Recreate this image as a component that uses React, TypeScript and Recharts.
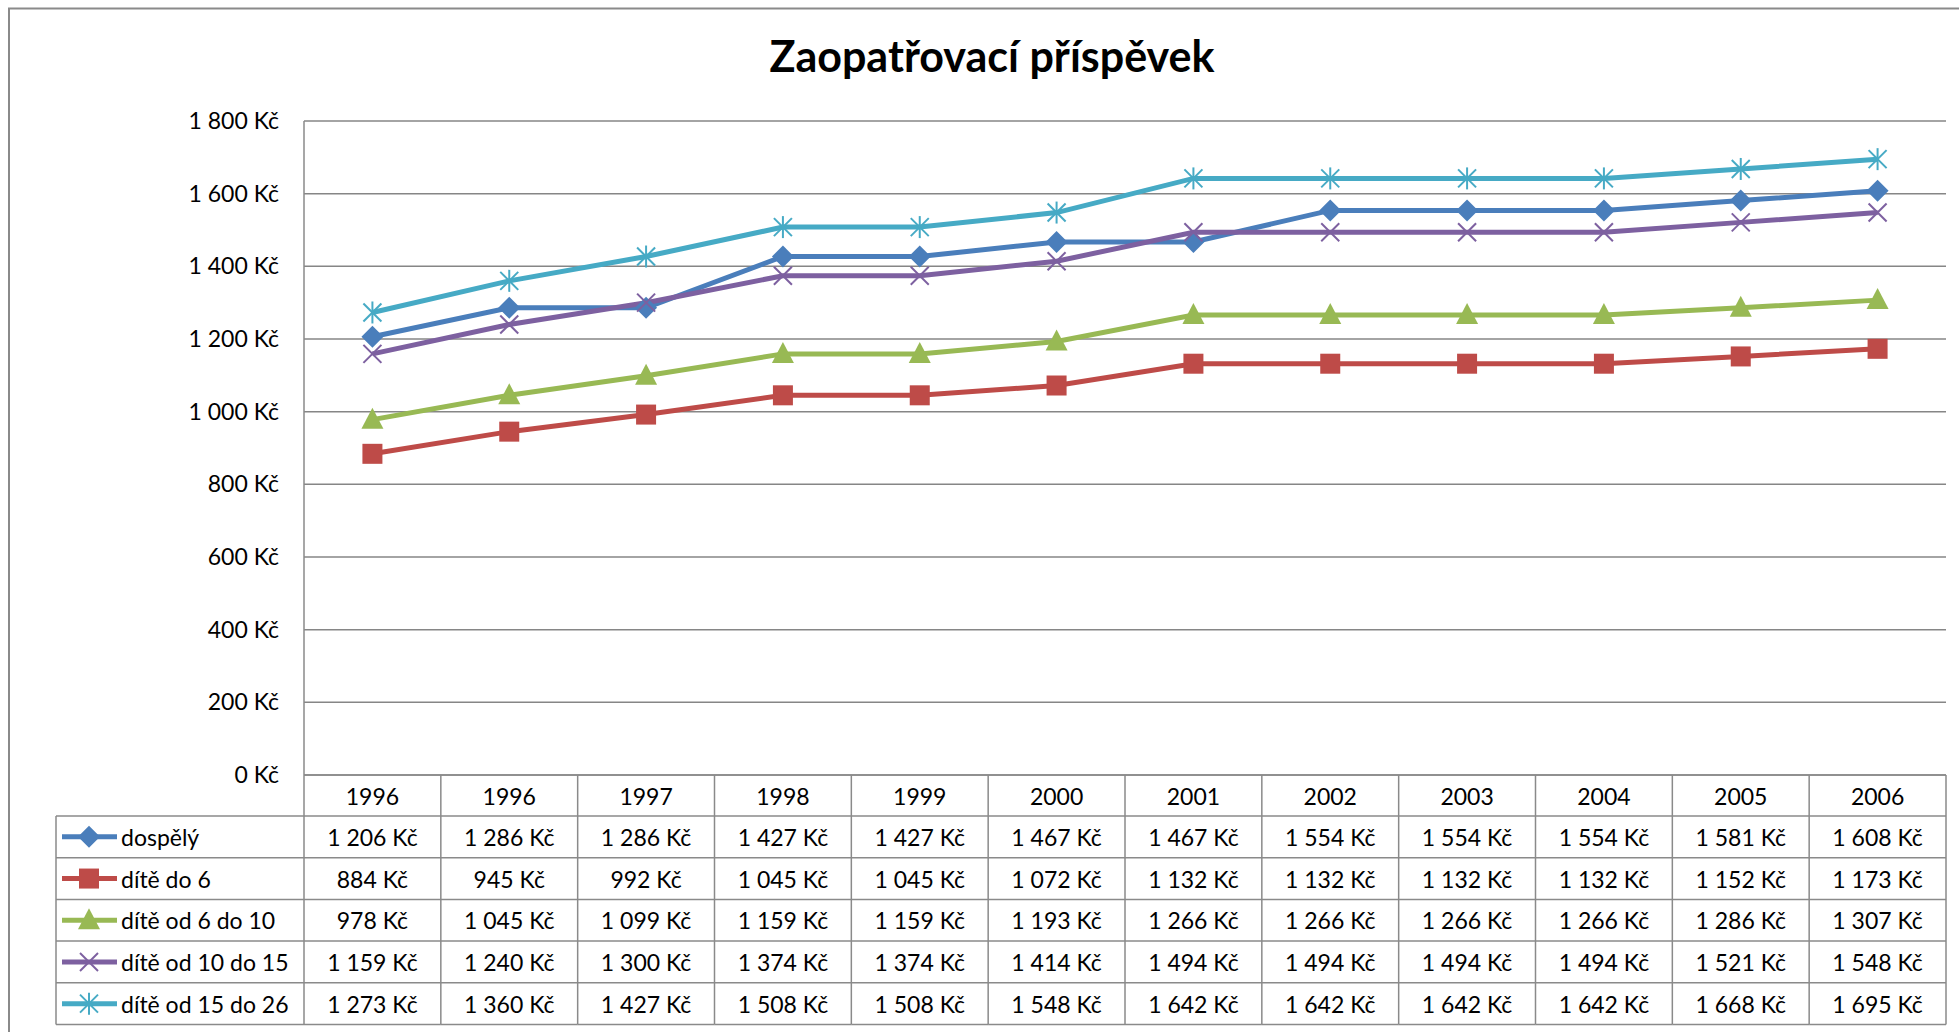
import { LineChart, Line, XAxis, YAxis, CartesianGrid } from "recharts";

const years = ["1996", "1996", "1997", "1998", "1999", "2000", "2001", "2002", "2003", "2004", "2005", "2006"];
const dospely = [1206, 1286, 1286, 1427, 1427, 1467, 1467, 1554, 1554, 1554, 1581, 1608];
const diteDo6 = [884, 945, 992, 1045, 1045, 1072, 1132, 1132, 1132, 1132, 1152, 1173];
const dite6do10 = [978, 1045, 1099, 1159, 1159, 1193, 1266, 1266, 1266, 1266, 1286, 1307];
const dite10do15 = [1159, 1240, 1300, 1374, 1374, 1414, 1494, 1494, 1494, 1494, 1521, 1548];
const dite15do26 = [1273, 1360, 1427, 1508, 1508, 1548, 1642, 1642, 1642, 1642, 1668, 1695];
const yTicks = [0, 200, 400, 600, 800, 1000, 1200, 1400, 1600, 1800];

const series = [
  { key: "dospely", name: "dospělý", values: dospely, color: "#4A7EBB", marker: "diamond" },
  { key: "diteDo6", name: "dítě do 6", values: diteDo6, color: "#BE4B48", marker: "square" },
  { key: "dite6do10", name: "dítě od 6 do 10", values: dite6do10, color: "#98B954", marker: "triangle" },
  { key: "dite10do15", name: "dítě od 10 do 15", values: dite10do15, color: "#7D60A0", marker: "x" },
  { key: "dite15do26", name: "dítě od 15 do 26", values: dite15do26, color: "#46AAC5", marker: "star" },
];

const data = years.map((year, i) => {
  const row: Record<string, number | string> = { i, year };
  series.forEach((s) => (row[s.key] = s.values[i]));
  return row;
});

const W = 1959;
const H = 1032;
const PLOT_LEFT = 304;
const PLOT_RIGHT = 1946;
const PLOT_TOP = 121;
const PLOT_BOTTOM = 775;
const BAND = (PLOT_RIGHT - PLOT_LEFT) / years.length;
const HEADER_BOTTOM = 816;
const ROW_H = 41.7;
const TABLE_BOTTOM = HEADER_BOTTOM + ROW_H * series.length;
const LEGEND_LEFT = 56;
const BORDER = "#8a8a8a";
const FONT = "Lato, 'Open Sans', sans-serif";

const kc = (v: number) => String(v).replace(/\B(?=(\d{3})+(?!\d))/g, " ") + " Kč";

function Marker({ type, cx, cy, color }: { type: string; cx: number; cy: number; color: string }) {
  if (type === "diamond") {
    const r = 11;
    return <polygon points={`${cx},${cy - r} ${cx + r},${cy} ${cx},${cy + r} ${cx - r},${cy}`} fill={color} />;
  }
  if (type === "square") {
    return <rect x={cx - 10} y={cy - 10} width={20} height={20} fill={color} />;
  }
  if (type === "triangle") {
    return <polygon points={`${cx},${cy - 12} ${cx + 11},${cy + 9} ${cx - 11},${cy + 9}`} fill={color} />;
  }
  const r = 9;
  return (
    <g stroke={color} strokeWidth={2}>
      <line x1={cx - r} y1={cy - r} x2={cx + r} y2={cy + r} />
      <line x1={cx - r} y1={cy + r} x2={cx + r} y2={cy - r} />
      {type === "star" && <line x1={cx} y1={cy - r - 2} x2={cx} y2={cy + r + 2} />}
    </g>
  );
}

function TableColumn(props: any) {
  const { x, payload } = props;
  const i = Number(payload.value);
  const left = x - BAND / 2;
  const right = x + BAND / 2;
  const rowLines = [HEADER_BOTTOM, ...series.map((_, r) => HEADER_BOTTOM + ROW_H * (r + 1))];
  return (
    <g fontFamily={FONT} fontSize={23} fill="#000">
      <line x1={right} y1={PLOT_BOTTOM} x2={right} y2={TABLE_BOTTOM} stroke={BORDER} strokeWidth={1.5} />
      {i === 0 && <line x1={left} y1={PLOT_BOTTOM} x2={left} y2={TABLE_BOTTOM} stroke={BORDER} strokeWidth={1.5} />}
      {rowLines.map((ly, r) => (
        <line key={r} x1={left} y1={ly} x2={right} y2={ly} stroke={BORDER} strokeWidth={1.5} />
      ))}
      <text x={x} y={(PLOT_BOTTOM + HEADER_BOTTOM) / 2} textAnchor="middle" dominantBaseline="central" stroke="none">
        {years[i]}
      </text>
      {series.map((s, r) => (
        <text
          key={s.key}
          x={x}
          y={HEADER_BOTTOM + ROW_H * (r + 0.5)}
          textAnchor="middle"
          dominantBaseline="central"
          stroke="none"
        >
          {kc(s.values[i])}
        </text>
      ))}
      {i === 0 && (
        <g>
          <line x1={LEGEND_LEFT} y1={HEADER_BOTTOM} x2={LEGEND_LEFT} y2={TABLE_BOTTOM} stroke={BORDER} strokeWidth={1.5} />
          {rowLines.map((ly, r) => (
            <line key={r} x1={LEGEND_LEFT} y1={ly} x2={left} y2={ly} stroke={BORDER} strokeWidth={1.5} />
          ))}
          {series.map((s, r) => {
            const cy = HEADER_BOTTOM + ROW_H * (r + 0.5);
            return (
              <g key={s.key}>
                <line x1={62} y1={cy} x2={117} y2={cy} stroke={s.color} strokeWidth={5} />
                <Marker type={s.marker} cx={89} cy={cy} color={s.color} />
                <text x={121} y={cy} dominantBaseline="central" stroke="none">
                  {s.name}
                </text>
              </g>
            );
          })}
        </g>
      )}
    </g>
  );
}

export default function App() {
  return (
    <div style={{ position: "absolute", left: 0, top: 0, width: W, height: H, background: "#fff", overflow: "hidden" }}>
      <LineChart
        width={W}
        height={H}
        data={data}
        margin={{ top: PLOT_TOP, right: W - PLOT_RIGHT, bottom: H - TABLE_BOTTOM, left: 0 }}
      >
        <CartesianGrid vertical={false} stroke="#868686" strokeWidth={1.5} />
        <XAxis
          dataKey="i"
          type="category"
          height={TABLE_BOTTOM - PLOT_BOTTOM}
          padding={{ left: BAND / 2, right: BAND / 2 }}
          axisLine={{ stroke: BORDER, strokeWidth: 1.5 }}
          tickLine={false}
          tickSize={0}
          tickMargin={0}
          interval={0}
          tick={<TableColumn />}
        />
        <YAxis
          domain={[0, 1800]}
          ticks={yTicks}
          width={PLOT_LEFT}
          axisLine={{ stroke: BORDER, strokeWidth: 1.5 }}
          tickLine={false}
          tickSize={0}
          tickMargin={25}
          tickFormatter={kc}
          tick={{ fontFamily: FONT, fontSize: 23, fill: "#000" }}
        />
        {series.map((s) => (
          <Line
            key={s.key}
            dataKey={s.key}
            name={s.name}
            stroke={s.color}
            strokeWidth={5}
            isAnimationActive={false}
            dot={(p: any) => <Marker key={p.index} type={s.marker} cx={p.cx} cy={p.cy} color={s.color} />}
            activeDot={false}
          />
        ))}
      </LineChart>
      <svg width={W} height={H} style={{ position: "absolute", left: 0, top: 0, pointerEvents: "none" }}>
        <rect x={9} y={8.5} width={W} height={H + 20} fill="none" stroke={BORDER} strokeWidth={2} />
        <text x={992} y={72} textAnchor="middle" fontFamily={FONT} fontWeight="bold" fontSize={43} fill="#000">
          Zaopatřovací příspěvek
        </text>
      </svg>
    </div>
  );
}
